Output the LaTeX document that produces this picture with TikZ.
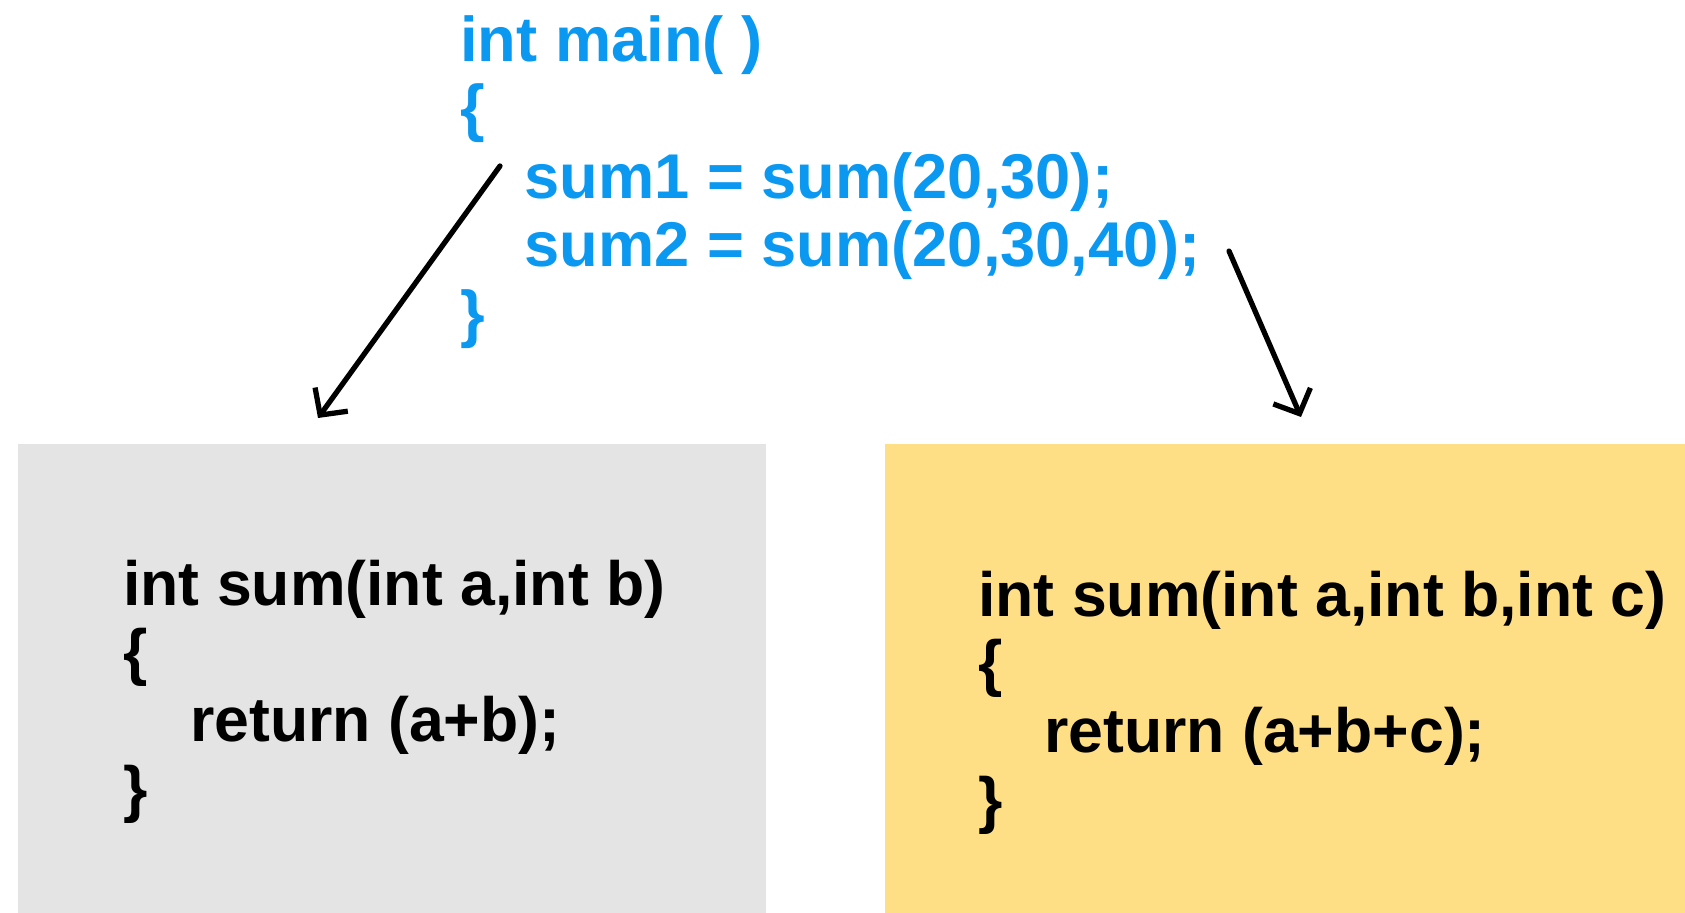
\documentclass[tikz,border=0pt]{standalone}
\usepackage{fontspec}
\setmainfont{Liberation Sans}
\usetikzlibrary{arrows.meta}
\definecolor{codeblue}{RGB}{10,152,240}
\definecolor{boxgray}{RGB}{228,228,228}
\definecolor{boxyellow}{RGB}{255,223,134}

\begin{document}
\begin{tikzpicture}[x=0.02cm, y=-0.02cm,
    code/.style={anchor=base west, align=left, inner sep=0pt,
      font=\fontsize{35.6}{38.8}\selectfont\bfseries},
    call/.style={-{Straight Barb[length=11pt, width=23pt]}, line width=3pt, line cap=round}]
    \useasboundingbox (0,0) rectangle (1685,913);

    % 関数の箱
    \fill[boxgray] (18,444) rectangle (766,913);
    \fill[boxyellow] (885,444) rectangle (1685,913);

    % コードを入れる (最後の行のベースライン)
    \node[code, text=codeblue, font=\fontsize{36}{38.9}\selectfont\bfseries] (main) at (460,335)
      {int main( )\\\{\\\hspace*{1.28cm}sum1 = sum(20,30);\\\hspace*{1.28cm}sum2 = sum(20,30,40);\\\}};
    \node[code] (sumab) at (123,810)
      {int sum(int a,int b)\\\{\\\hspace*{1.34cm}return (a+b);\\\}};
    \node[code] (sumabc) at (978,821)
      {int sum(int a,int b,int c)\\\{\\\hspace*{1.32cm}return (a+b+c);\\\}};

    % 矢印
    \coordinate (from1) at (500,166);
    \coordinate (to1) at (318,418);
    \coordinate (from2) at (1229,251);
    \coordinate (to2) at (1301,417);
    \draw[call] (from1) -- (to1);
    \draw[call] (from2) -- (to2);
\end{tikzpicture}
\end{document}
